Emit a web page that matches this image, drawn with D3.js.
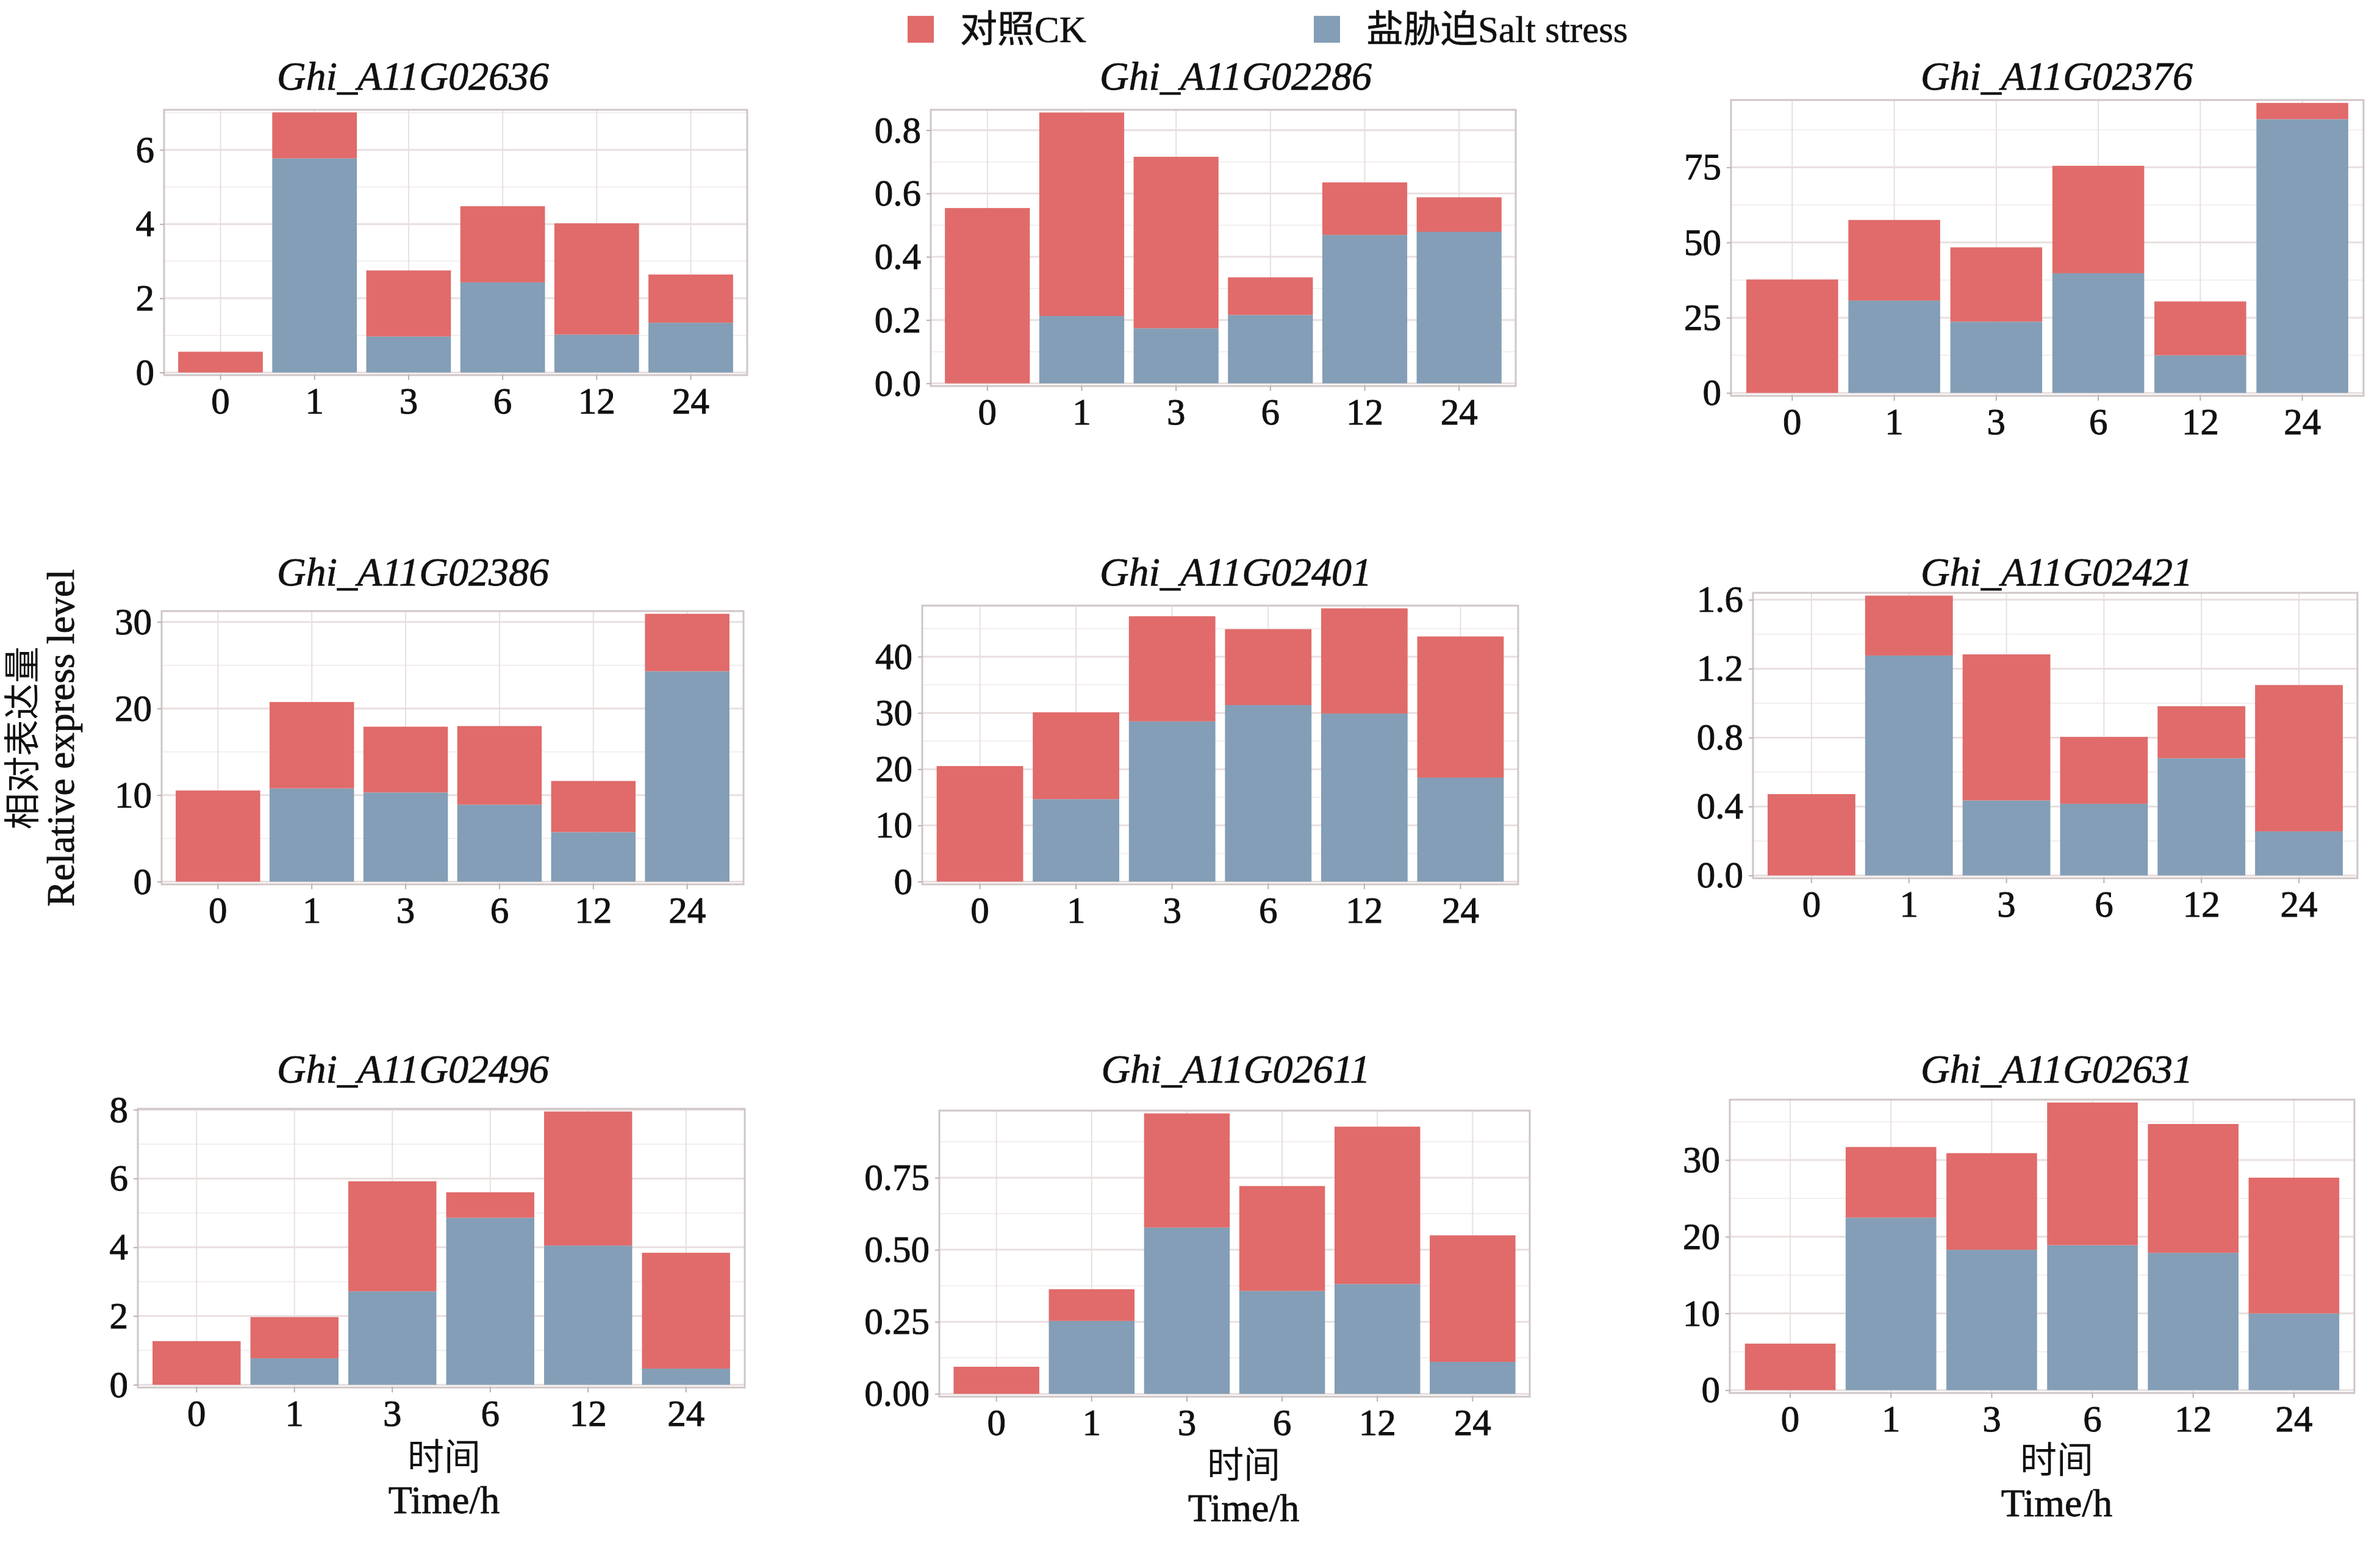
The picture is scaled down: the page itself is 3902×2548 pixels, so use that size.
<!DOCTYPE html>
<html>
<head>
<meta charset="utf-8">
<script src="https://cdn.jsdelivr.net/npm/d3@7"></script>
<style>
  body { margin: 0; background: #fff; }
  svg text { font-family: "Liberation Serif", "Times New Roman", "Noto Sans CJK SC", serif; }
</style>
</head>
<body>
<div id="chart"></div>
<script>
// time points (h)
var times = ["0", "1", "3", "6", "12", "24"];

var genes = ["Ghi_A11G02636", "Ghi_A11G02286", "Ghi_A11G02376",
             "Ghi_A11G02386", "Ghi_A11G02401", "Ghi_A11G02421",
             "Ghi_A11G02496", "Ghi_A11G02611", "Ghi_A11G02631"];

// salt stress segment (blue, bottom of the stack)
var saltValues = [
  [0, 5.77, 0.97, 2.43, 1.02, 1.34],
  [0, 0.213, 0.174, 0.216, 0.469, 0.479],
  [0, 30.7, 23.7, 39.8, 12.5, 91.0],
  [0, 10.78, 10.3, 8.89, 5.72, 24.31],
  [0, 14.67, 28.5, 31.4, 29.9, 18.5],
  [0, 1.276, 0.435, 0.416, 0.680, 0.256],
  [0, 0.77, 2.72, 4.86, 4.05, 0.47],
  [0, 0.253, 0.577, 0.357, 0.381, 0.111],
  [0, 22.5, 18.3, 18.9, 17.9, 10.0]
];

// CK segment (red, stacked on top)
var ckValues = [
  [0.56, 1.24, 1.78, 2.05, 3.00, 1.30],
  [0.554, 0.643, 0.542, 0.119, 0.166, 0.109],
  [37.7, 26.8, 24.7, 35.7, 17.9, 5.4],
  [10.53, 9.97, 7.6, 9.08, 5.91, 6.63],
  [20.55, 15.43, 18.7, 13.5, 18.7, 25.1],
  [0.472, 0.348, 0.848, 0.388, 0.302, 0.849],
  [1.27, 1.20, 3.20, 0.74, 3.90, 3.37],
  [0.094, 0.110, 0.396, 0.364, 0.546, 0.439],
  [6.06, 9.2, 12.6, 18.6, 16.8, 17.7]
];

// y tick labels per panel
var yTickLabels = [
  ["0", "2", "4", "6"],
  ["0.0", "0.2", "0.4", "0.6", "0.8"],
  ["0", "25", "50", "75"],
  ["0", "10", "20", "30"],
  ["0", "10", "20", "30", "40"],
  ["0.0", "0.4", "0.8", "1.2", "1.6"],
  ["0", "2", "4", "6", "8"],
  ["0.00", "0.25", "0.50", "0.75"],
  ["0", "10", "20", "30"]
];

var legendLabels = ["对照CK", "盐胁迫Salt stress"];

// ---- layout ----
var W = 3902, H = 2548;
var panels = [
  {x0: 269, x1: 1225, y0: 180, y1: 615},
  {x0: 1526, x1: 2485, y0: 180, y1: 633},
  {x0: 2838, x1: 3875, y0: 164, y1: 649},
  {x0: 265, x1: 1219, y0: 1002, y1: 1450},
  {x0: 1512, x1: 2489, y0: 993, y1: 1450},
  {x0: 2874, x1: 3865, y0: 972, y1: 1440},
  {x0: 226, x1: 1221, y0: 1818, y1: 2275},
  {x0: 1540, x1: 2508, y0: 1821, y1: 2290},
  {x0: 2836, x1: 3860, y0: 1803, y1: 2284}
];
var titleX = [677, 2026, 3372];
var titleY = [147, 960, 1775];

var RED = "#e06b6a", BLUE = "#839eb6";
var GRID = "#e9dfdf", GRID_MINOR = "#f3eeee", BORDER = "#cfc6c6";
var INK = "#111";

var svg = d3.select("#chart").append("svg")
  .attr("width", W).attr("height", H);
svg.append("rect").attr("width", W).attr("height", H).attr("fill", "#fff");

genes.forEach(function(gene, i) {
  var p = panels[i];
  var g = svg.append("g");

  var rows = times.map(function(t, j) {
    return {time: t, salt: saltValues[i][j], ck: ckValues[i][j]};
  });
  var series = d3.stack().keys(["salt", "ck"])(rows);
  var maxTop = d3.max(rows, function(d) { return d.salt + d.ck; });
  var pad = maxTop * 0.01;

  var x = d3.scaleBand().domain(times).range([p.x0, p.x1])
    .paddingInner(0.1).paddingOuter(0.15);
  var y = d3.scaleLinear().domain([-pad, maxTop + pad]).range([p.y1, p.y0]);

  var ticks = yTickLabels[i].map(Number);
  var step = ticks[1] - ticks[0];
  var minor = d3.range(ticks[0] - step / 2, maxTop + pad, step)
    .filter(function(v) { return v > -pad && v < maxTop + pad; });

  // grid
  g.selectAll(".minor").data(minor).enter().append("line")
    .attr("x1", p.x0).attr("x2", p.x1)
    .attr("y1", function(d) { return y(d); }).attr("y2", function(d) { return y(d); })
    .attr("stroke", GRID_MINOR).attr("stroke-width", 2);
  g.selectAll(".major").data(ticks).enter().append("line")
    .attr("x1", p.x0).attr("x2", p.x1)
    .attr("y1", function(d) { return y(d); }).attr("y2", function(d) { return y(d); })
    .attr("stroke", GRID).attr("stroke-width", 3);
  g.selectAll(".vgrid").data(times).enter().append("line")
    .attr("x1", function(d) { return x(d) + x.bandwidth() / 2; })
    .attr("x2", function(d) { return x(d) + x.bandwidth() / 2; })
    .attr("y1", p.y0).attr("y2", p.y1)
    .attr("stroke", GRID).attr("stroke-width", 2);

  // stacked bars
  var colors = {salt: BLUE, ck: RED};
  series.forEach(function(s) {
    g.selectAll(".bar-" + s.key).data(s).enter().append("rect")
      .attr("x", function(d) { return x(d.data.time); })
      .attr("width", x.bandwidth())
      .attr("y", function(d) { return y(d[1]); })
      .attr("height", function(d) { return Math.max(0, y(d[0]) - y(d[1])); })
      .attr("fill", colors[s.key]);
  });

  // border
  g.append("rect")
    .attr("x", p.x0).attr("y", p.y0)
    .attr("width", p.x1 - p.x0).attr("height", p.y1 - p.y0)
    .attr("fill", "none").attr("stroke", BORDER).attr("stroke-width", 3);

  // axes
  var yAxis = g.append("g").attr("transform", "translate(" + p.x0 + ",0)")
    .call(d3.axisLeft(y).tickValues(ticks)
      .tickFormat(function(d, k) { return yTickLabels[i][k]; })
      .tickSize(7).tickPadding(9));
  var xAxis = g.append("g").attr("transform", "translate(0," + p.y1 + ")")
    .call(d3.axisBottom(x).tickSize(8).tickPadding(12));
  [yAxis, xAxis].forEach(function(a) {
    a.select(".domain").remove();
    a.selectAll(".tick line").attr("stroke", "#b8b0b0").attr("stroke-width", 2);
    a.selectAll(".tick text").attr("font-size", 61).attr("fill", INK)
      .attr("stroke", INK).attr("stroke-width", 1)
      .style("font-family", "'Liberation Serif', serif");
  });

  // title
  g.append("text")
    .attr("x", titleX[i % 3]).attr("y", titleY[Math.floor(i / 3)])
    .attr("text-anchor", "middle")
    .attr("font-size", 66).attr("font-style", "italic").attr("fill", INK)
    .attr("stroke", INK).attr("stroke-width", 0.8)
    .text(gene);
});

// x axis titles under the bottom row
var xTitleX = [728, 2039, 3372];
var xTitleY = [2410, 2423, 2415];
xTitleX.forEach(function(cx, k) {
  svg.append("text").attr("x", cx).attr("y", xTitleY[k])
    .attr("text-anchor", "middle").attr("font-size", 60).attr("fill", INK)
    .text("时间");
  svg.append("text").attr("x", cx).attr("y", xTitleY[k] + 71)
    .attr("text-anchor", "middle").attr("font-size", 64).attr("fill", INK)
    .attr("stroke", INK).attr("stroke-width", 0.8)
    .text("Time/h");
});

// y axis title (two lines, rotated)
var yt = svg.append("g").attr("transform", "translate(0,1210)");
yt.append("text").attr("transform", "translate(38,0) rotate(-90)")
  .attr("text-anchor", "middle").attr("dominant-baseline", "central")
  .attr("font-size", 60).attr("fill", INK).text("相对表达量");
yt.append("text").attr("transform", "translate(100,0) rotate(-90)")
  .attr("text-anchor", "middle").attr("dominant-baseline", "central")
  .attr("font-size", 63).attr("fill", INK)
  .attr("stroke", INK).attr("stroke-width", 0.8)
  .text("Relative express level");

// legend
var legendX = [1488, 2154];
var legendColors = [RED, BLUE];
legendLabels.forEach(function(lab, k) {
  svg.append("rect").attr("x", legendX[k]).attr("y", 26)
    .attr("width", 43).attr("height", 44).attr("fill", legendColors[k]);
  svg.append("text").attr("x", legendX[k] + 86).attr("y", 48)
    .attr("dominant-baseline", "central")
    .attr("font-size", 61).attr("fill", INK)
    .attr("stroke", INK).attr("stroke-width", 0.6).text(lab);
});
</script>
</body>
</html>
